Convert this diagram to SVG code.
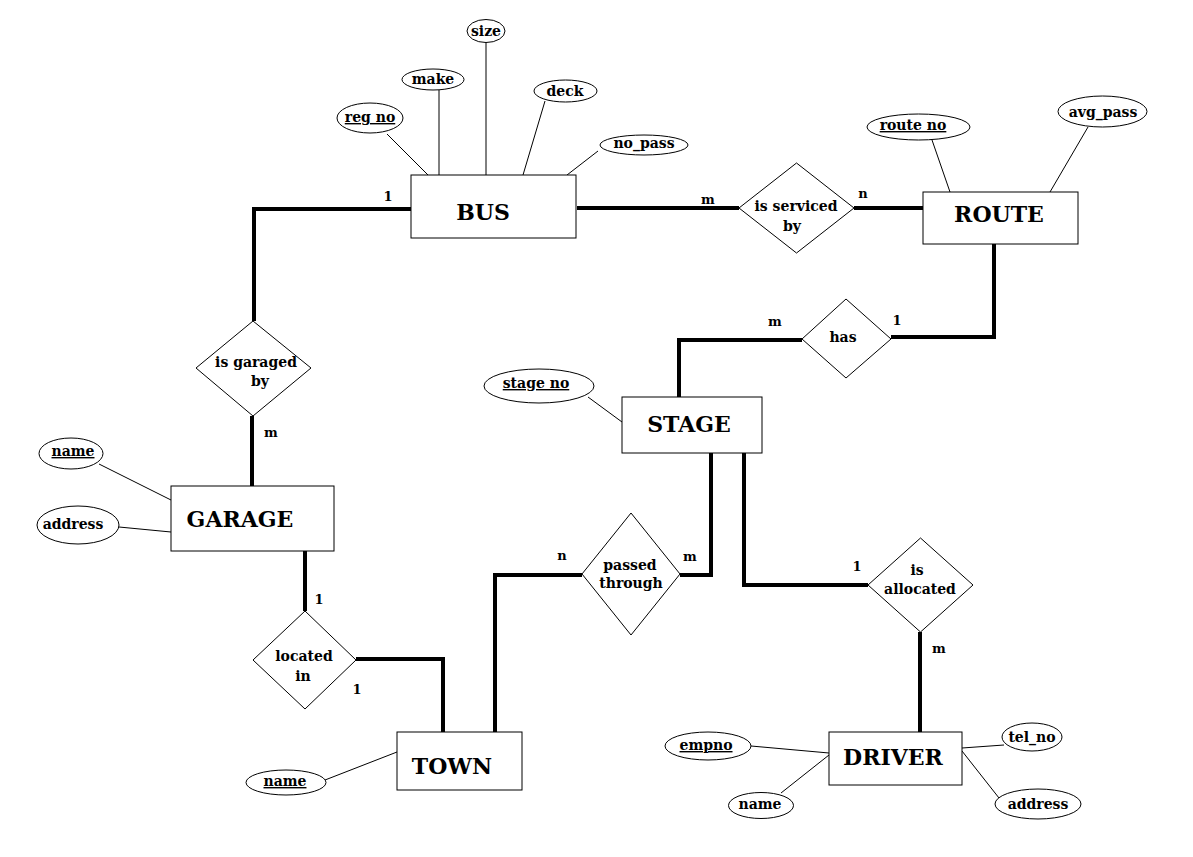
<svg xmlns="http://www.w3.org/2000/svg" width="1193" height="857" viewBox="0 0 1193 857">
<style>
text{font-family:"DejaVu Serif","Liberation Serif",serif;font-weight:bold;fill:#000;text-anchor:middle}
.ent{font-size:22px}
.lbl{font-size:14px}
.card{font-size:13px}
.u{text-decoration:underline}
.box{fill:#fff;stroke:#000;stroke-width:1}
.thick{fill:none;stroke:#000;stroke-width:4}
.thin{fill:none;stroke:#000;stroke-width:1}
</style>
<rect width="1193" height="857" fill="#fff"/>
<g id="connectors">
<polyline class="thick" points="411,209 254,209 254,321"/>
<line class="thick" x1="252" y1="416" x2="252" y2="486"/>
<line class="thick" x1="305" y1="551" x2="305" y2="611"/>
<polyline class="thick" points="356,659 443,659 443,732"/>
<polyline class="thick" points="495,732 495,575 582,575"/>
<polyline class="thick" points="680,575 711,575 711,453"/>
<polyline class="thick" points="744,453 744,585 868,585"/>
<line class="thick" x1="920" y1="632" x2="920" y2="732"/>
<polyline class="thick" points="679,397 679,340 802,340"/>
<polyline class="thick" points="891,337 994,337 994,244"/>
<line class="thick" x1="577" y1="208" x2="739" y2="208"/>
<line class="thick" x1="854" y1="208" x2="923" y2="208"/>
<line class="thin" x1="486" y1="42" x2="486" y2="175"/>
<line class="thin" x1="439" y1="90" x2="439" y2="175"/>
<line class="thin" x1="387" y1="134" x2="428" y2="175"/>
<line class="thin" x1="545" y1="101" x2="523" y2="175"/>
<line class="thin" x1="598" y1="151" x2="567" y2="175"/>
<line class="thin" x1="932" y1="140" x2="950" y2="192"/>
<line class="thin" x1="1088" y1="127" x2="1050" y2="192"/>
<line class="thin" x1="99" y1="464" x2="171" y2="500"/>
<line class="thin" x1="119" y1="527" x2="171" y2="532"/>
<line class="thin" x1="588" y1="397" x2="622" y2="422"/>
<line class="thin" x1="325" y1="780" x2="397" y2="752"/>
<line class="thin" x1="751" y1="746" x2="829" y2="753"/>
<line class="thin" x1="781" y1="793" x2="829" y2="755"/>
<line class="thin" x1="962" y1="748" x2="1004" y2="745"/>
<line class="thin" x1="962" y1="751" x2="999" y2="798"/>
<text class="card" x="388" y="201">1</text>
<text class="card" x="708" y="204">m</text>
<text class="card" x="863" y="198">n</text>
<text class="card" x="775" y="326">m</text>
<text class="card" x="897" y="325">1</text>
<text class="card" x="271" y="437">m</text>
<text class="card" x="319" y="604">1</text>
<text class="card" x="357" y="694">1</text>
<text class="card" x="562" y="560">n</text>
<text class="card" x="690" y="561">m</text>
<text class="card" x="857" y="571">1</text>
<text class="card" x="939" y="653">m</text>
</g>
<g id="BUS">
<rect class="box" x="411" y="175" width="165" height="63"/>
<text class="ent" x="483" y="220">BUS</text>
</g>
<g id="ROUTE">
<rect class="box" x="923" y="192" width="155" height="52"/>
<text class="ent" x="999" y="222">ROUTE</text>
</g>
<g id="GARAGE">
<rect class="box" x="171" y="486" width="163" height="65"/>
<text class="ent" x="240" y="527">GARAGE</text>
</g>
<g id="STAGE">
<rect class="box" x="622" y="397" width="140" height="56"/>
<text class="ent" x="689" y="432">STAGE</text>
</g>
<g id="TOWN">
<rect class="box" x="397" y="732" width="125" height="58"/>
<text class="ent" x="452" y="774">TOWN</text>
</g>
<g id="DRIVER">
<rect class="box" x="829" y="732" width="133" height="53"/>
<text class="ent" x="893" y="765">DRIVER</text>
</g>
<g id="is_serviced_by">
<polygon class="box" points="739,208 796.5,163 854,208 796.5,253"/>
<text class="lbl" x="796" y="211">is serviced</text>
<text class="lbl" x="792" y="231">by</text>
</g>
<g id="has">
<polygon class="box" points="802,339 846,299 891,339 846,378"/>
<text class="lbl" x="843" y="342">has</text>
</g>
<g id="is_garaged_by">
<polygon class="box" points="196,368 253,321 311,368 253,416"/>
<text class="lbl" x="256" y="367">is garaged</text>
<text class="lbl" x="260" y="386">by</text>
</g>
<g id="located_in">
<polygon class="box" points="253,660 305,611 356,660 305,709"/>
<text class="lbl" x="304" y="661">located</text>
<text class="lbl" x="303" y="681">in</text>
</g>
<g id="passed_through">
<polygon class="box" points="582,574 631,513 680,574 631,635"/>
<text class="lbl" x="630" y="570">passed</text>
<text class="lbl" x="631" y="588">through</text>
</g>
<g id="is_allocated">
<polygon class="box" points="868,585 920.5,538 973,585 920.5,632"/>
<text class="lbl" x="917" y="575">is</text>
<text class="lbl" x="920" y="594">allocated</text>
</g>
<g id="attr_size"><ellipse class="box" cx="486" cy="31" rx="19" ry="11.5"/><text class="lbl" x="486" y="36">size</text></g>
<g id="attr_make"><ellipse class="box" cx="433" cy="79.5" rx="31" ry="10.5"/><text class="lbl" x="433" y="84">make</text></g>
<g id="attr_reg_no"><ellipse class="box" cx="370" cy="118" rx="33" ry="15"/><text class="lbl u" x="370" y="122">reg no</text></g>
<g id="attr_deck"><ellipse class="box" cx="565.5" cy="91" rx="31.5" ry="11"/><text class="lbl" x="565" y="96">deck</text></g>
<g id="attr_no_pass"><ellipse class="box" cx="644" cy="145" rx="44" ry="10"/><text class="lbl" x="644" y="148">no_pass</text></g>
<g id="attr_route_no"><ellipse class="box" cx="918.5" cy="127" rx="51.5" ry="13"/><text class="lbl u" x="913" y="130">route no</text></g>
<g id="attr_avg_pass"><ellipse class="box" cx="1102.5" cy="111.5" rx="44.5" ry="15.5"/><text class="lbl" x="1103" y="117">avg_pass</text></g>
<g id="attr_garage_name"><ellipse class="box" cx="71" cy="453.5" rx="32" ry="15.5"/><text class="lbl u" x="73" y="456">name</text></g>
<g id="attr_garage_address"><ellipse class="box" cx="78" cy="525" rx="41" ry="19"/><text class="lbl" x="73" y="529">address</text></g>
<g id="attr_stage_no"><ellipse class="box" cx="539" cy="386" rx="55" ry="17"/><text class="lbl u" x="536" y="388">stage no</text></g>
<g id="attr_town_name"><ellipse class="box" cx="286" cy="782.5" rx="40" ry="12.5"/><text class="lbl u" x="285" y="786">name</text></g>
<g id="attr_empno"><ellipse class="box" cx="708" cy="746" rx="43" ry="14"/><text class="lbl u" x="706" y="750">empno</text></g>
<g id="attr_driver_name"><ellipse class="box" cx="761" cy="805.5" rx="32.5" ry="13"/><text class="lbl" x="760" y="809">name</text></g>
<g id="attr_tel_no"><ellipse class="box" cx="1032" cy="737" rx="30" ry="14"/><text class="lbl" x="1032" y="742">tel_no</text></g>
<g id="attr_driver_address"><ellipse class="box" cx="1038" cy="804" rx="43" ry="15"/><text class="lbl" x="1038" y="809">address</text></g>
</svg>
